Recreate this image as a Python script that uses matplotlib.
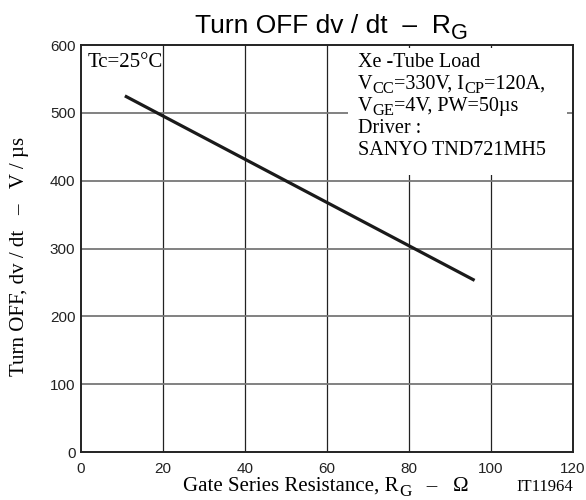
import matplotlib
matplotlib.use("Agg")
import matplotlib.pyplot as plt
from matplotlib.patches import Rectangle
from matplotlib.transforms import IdentityTransform

# data
rg = [10.7, 96]
dvdt = [525, 253]
x_ticks = [0, 20, 40, 60, 80, 100, 120]
y_ticks = [0, 100, 200, 300, 400, 500, 600]

SERIF = "Liberation Serif"
SANS = "Liberation Sans"
W, H = 586, 500


def rich_text(fig, renderer, x, y, parts, family, size, ha="left"):
    # parts: list of (text, is_subscript); x, y in pixels from top-left
    pieces = []
    for s, sub in parts:
        fs = size * 0.82 if sub else size
        t = fig.text(0, 0, s, fontfamily=family, fontsize=fs,
                     va="baseline", ha="left", transform=IdentityTransform())
        w = t.get_window_extent(renderer).width
        pieces.append((t, w, sub))
    total = sum(p[1] for p in pieces)
    if ha == "center":
        cx = x - total / 2
    elif ha == "right":
        cx = x - total
    else:
        cx = x
    for t, w, sub in pieces:
        drop = size * 0.3 if sub else 0
        t.set_position((cx, H - y - drop))
        cx += w


def main():
    fig = plt.figure(figsize=(W / 100, H / 100), dpi=100, facecolor="white")
    renderer = fig.canvas.get_renderer()
    ax = fig.add_axes([81 / W, 1 - 452 / H, 492 / W, 407 / H])

    ax.set_xlim(0, 120)
    ax.set_ylim(0, 600)
    ax.set_xticks(x_ticks)
    ax.set_yticks(y_ticks)
    ax.tick_params(length=0, labelsize=11, colors="#222222")
    ax.tick_params(axis="x", pad=7)
    ax.tick_params(axis="y", pad=4)
    for lab in ax.get_xticklabels() + ax.get_yticklabels():
        lab.set_fontfamily(SANS)

    for x in x_ticks[1:-1]:
        ax.axvline(x, color="#222222", lw=0.9, zorder=1)
    for y in y_ticks[1:-1]:
        ax.axhline(y, color="#777777", lw=1.3, zorder=1)
    for sp in ax.spines.values():
        sp.set_linewidth(1.4)
        sp.set_color("#222222")

    # white panel behind the test conditions
    ax.add_patch(Rectangle((65, 408), 53.6, 188, facecolor="white",
                           edgecolor="none", zorder=2))

    ax.plot(rg, dvdt, color="#1a1a1a", lw=2.3, solid_capstyle="butt", zorder=3)

    rich_text(fig, renderer, 331, 33,
              [("Turn OFF dv / dt  –  R", False), ("G", True)], SANS, 19,
              ha="center")
    rich_text(fig, renderer, 326, 491,
              [("Gate Series Resistance, R", False), ("G", True), ("   –   Ω", False)],
              SERIF, 15, ha="center")
    fig.text(20 / W, 1 - 256 / H, "Turn OFF, dv / dt   –   V / µs",
             fontfamily=SERIF, fontsize=15, rotation=90,
             ha="center", va="center")

    rich_text(fig, renderer, 88, 67, [("Tc=25°C", False)], SERIF, 15)

    rows = [
        (67, [("Xe -Tube Load", False)]),
        (89, [("V", False), ("CC", True), ("=330V, I", False), ("CP", True),
              ("=120A,", False)]),
        (111, [("V", False), ("GE", True), ("=4V, PW=50µs", False)]),
        (133, [("Driver :", False)]),
        (155, [("SANYO TND721MH5", False)]),
    ]
    for y, parts in rows:
        rich_text(fig, renderer, 358, y, parts, SERIF, 14.5)

    rich_text(fig, renderer, 573, 491, [("IT11964", False)], SERIF, 12,
              ha="right")

    fig.savefig("out.png", dpi=100)


if __name__ == "__main__":
    main()
